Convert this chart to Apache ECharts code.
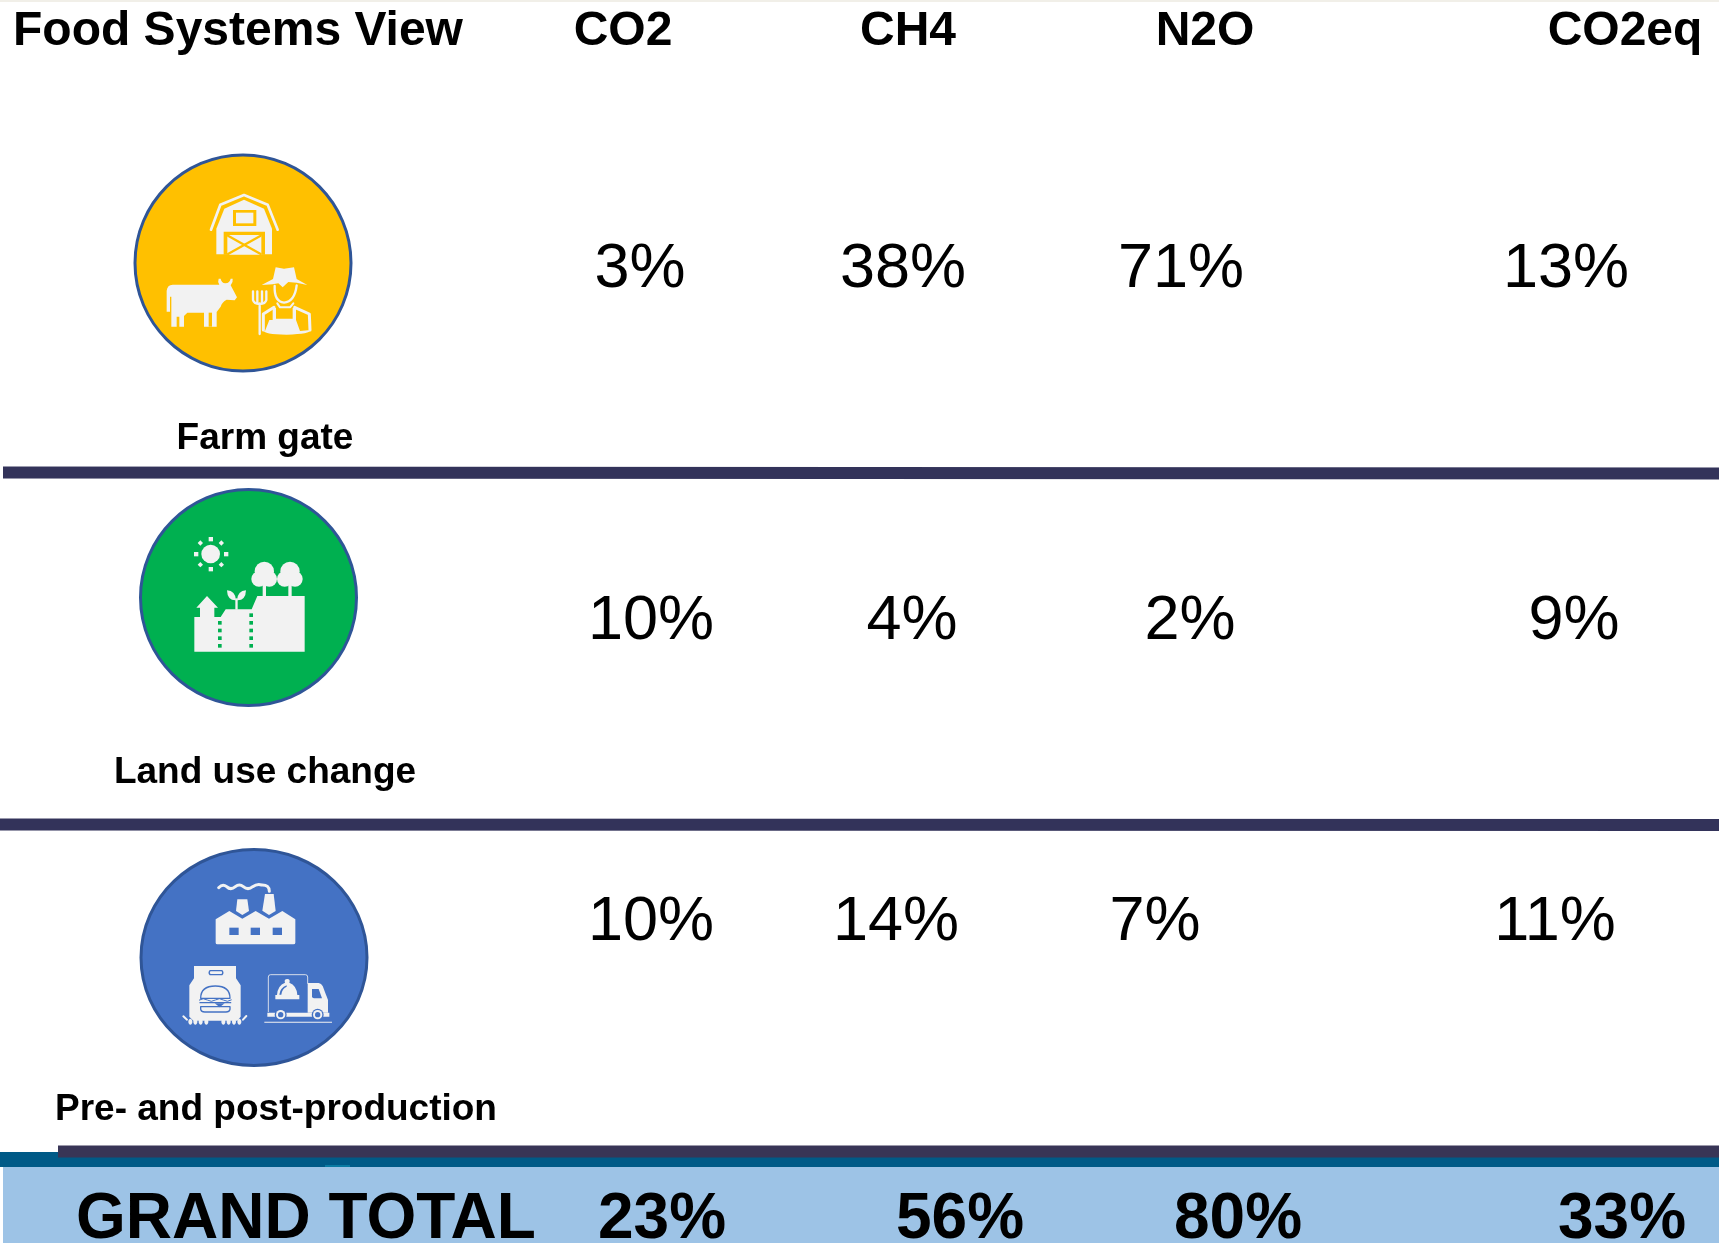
<!DOCTYPE html>
<html>
<head>
<meta charset="utf-8">
<style>
  html, body { margin: 0; background: #fff; }
  #chart { width: 1719px; height: 1243px; }
</style>
<script src="https://cdn.jsdelivr.net/npm/echarts@6/dist/echarts.min.js"></script>
</head>
<body>
<div id="chart"></div>
<script>
const title = 'Food Systems View'
const gases = ['CO2', 'CH4', 'N2O', 'CO2eq']
const rowNames = ['Farm gate', 'Land use change', 'Pre- and post-production']
const totalName = 'GRAND TOTAL'

const farmGate = [3, 38, 71, 13]
const landUse = [10, 4, 2, 9]
const prePost = [10, 14, 7, 11]
const grandTotal = [23, 56, 80, 33]

// the source slide is hand placed, so each cell has its own centre x
const headerX = [623, 908, 1205, 1625]
const rowX = [
  [640, 903, 1181, 1566],
  [651, 912, 1190, 1574],
  [651, 896, 1155, 1555],
]
const totalX = [662, 960, 1238, 1622]
const rowY = [270, 622, 923]
const labelX = [265, 265, 276]
const labelY = [439, 773, 1110]

const FONT = '"Liberation Sans", Arial, sans-serif'
const ICON = '#f2f2f2'
const YELLOW = '#ffc000'
const GREEN = '#00b050'
const BLUE = '#4472c4'
const RULE = '#33335a'

const text = (str, x, y, size, weight, align) => ({
  type: 'text',
  x, y,
  style: {
    text: str,
    fontFamily: FONT,
    fontSize: size,
    fontWeight: weight,
    fill: '#000',
    align: align || 'center',
    verticalAlign: 'middle',
  },
})

const rect = (x, y, width, height, fill) => ({
  type: 'rect',
  shape: { x, y, width, height },
  style: { fill },
})

const rule = (x1, y1, x2, y2) => ({
  type: 'line',
  shape: { x1, y1, x2, y2 },
  style: { stroke: RULE, lineWidth: 12 },
})

// graphic has no plain path type, so every traced outline becomes its own shape
let shapeCount = 0
const pathShape = (d) => {
  const name = 'iconPath' + shapeCount++
  echarts.graphic.registerShape(name, echarts.graphic.extendPath(d))
  return name
}

// icon parts are traced in a 3x crop, the group scales them back down
const fillPath = (d, fill) => ({
  type: pathShape(d),
  style: { fill },
})
const strokePath = (d, stroke, lineWidth) => ({
  type: pathShape(d),
  style: { fill: 'none', stroke, lineWidth, lineCap: 'round', lineJoin: 'round' },
})
const box = (x, y, w, h, fill) => rect(x, y, w, h, fill)
const dot = (cx, cy, r, fill) => ({ type: 'circle', shape: { cx, cy, r }, style: { fill } })
const oval = (cx, cy, rx, ry, fill) => ({ type: 'ellipse', shape: { cx, cy, rx, ry }, style: { fill } })

const icon = (x, y, children) => ({ type: 'group', x, y, scaleX: 1 / 3, scaleY: 1 / 3, children })

const badge = (cx, cy, rx, ry, fill) => ({
  type: 'ellipse',
  shape: { cx, cy, rx, ry },
  style: { fill, stroke: '#2f5597', lineWidth: 3 },
})

const farmIcon = icon(100, 130, [
  // barn
  strokePath('M333 299L361 224L432 195L503 224L533 299', ICON, 8),
  fillPath('M349 373L349 296L373 236L432 209L492 236L516 296L516 373Z', ICON),
  box(399, 240, 70, 48, YELLOW),
  box(408, 248, 52, 32, ICON),
  box(371, 305, 124, 69, YELLOW),
  box(382, 315, 102, 59, ICON),
  strokePath('M384 317L482 372M482 317L384 372', YELLOW, 7),
  // cow
  fillPath('M200 545L200 482Q202 464 218 464L358 464Q352 456 356 446L362 446Q364 458 376 460Q390 458 392 446L398 446Q400 456 392 466L411 502L404 511L380 509Q366 516 362 530L350 546L350 590L312 590L312 548L262 548L252 558L252 590L238 590L238 560L230 560L230 590L214 590L214 500L210 500L210 545Z', ICON),
  box(326, 548, 10, 42, YELLOW),
  // farmer
  fillPath('M485 465L519 447L527 412L552 416L582 412L590 447L622 465L590 458L565 456L548 472L535 460L518 463Z', ICON),
  strokePath('M524 468Q522 515 552 518Q584 515 590 466', ICON, 7),
  strokePath('M532 520L540 532L570 532L580 520', ICON, 6),
  strokePath('M490 600L490 552L522 532M584 532L628 552L630 600', ICON, 9),
  fillPath('M518 534L528 534L528 566L578 566L578 534L588 534L588 570L600 603L632 600Q632 612 560 614Q490 614 490 600L495 603L508 570L518 570Z', ICON),
  strokePath('M479 612L479 520M459 484L459 510Q462 522 479 522Q496 522 499 510L499 484M472 484L472 520M486 484L486 520', ICON, 7),
])

const landIcon = icon(110, 470, [
  dot(302, 252, 28, ICON),
  box(296, 201, 13, 13, ICON), box(296, 291, 13, 13, ICON),
  box(252, 246, 13, 13, ICON), box(342, 246, 13, 13, ICON),
  fillPath('M271 211L279 219L271 227L263 219Z', ICON),
  fillPath('M334 211L342 219L334 227L326 219Z', ICON),
  fillPath('M271 276L279 284L271 292L263 284Z', ICON),
  fillPath('M334 276L342 284L334 292L326 284Z', ICON),
  fillPath('M253 545L253 441L270 441L270 413L259 413L291 378L324 413L313 413L313 441L332 441L347 418L425 418L442 378L584 378L584 545Z', ICON),
  box(324, 453, 11, 11, GREEN), box(324, 476, 11, 11, GREEN), box(324, 499, 11, 11, GREEN), box(324, 522, 11, 11, GREEN),
  box(418, 430, 11, 11, GREEN), box(418, 453, 11, 11, GREEN), box(418, 476, 11, 11, GREEN), box(418, 499, 11, 11, GREEN), box(418, 522, 11, 11, GREEN),
  box(376, 385, 7, 34, ICON),
  fillPath('M351 361Q376 362 378 391Q352 392 351 361Z', ICON),
  fillPath('M408 361Q383 362 381 391Q407 392 408 361Z', ICON),
  box(458, 340, 10, 40, ICON), dot(463, 304, 29, ICON), dot(447, 327, 23, ICON), dot(478, 327, 23, ICON),
  box(535, 340, 10, 40, ICON), dot(540, 304, 29, ICON), dot(524, 327, 23, ICON), dot(555, 327, 23, ICON),
])

const prePostIcon = icon(110, 830, [
  // factory
  strokePath('M326 173Q338 160 350 170Q362 182 376 170Q388 160 400 170Q414 182 428 170Q442 160 455 165Q478 164 478 184', ICON, 9),
  fillPath('M382 208L412 208L417 243L397 255L378 243Z', ICON),
  fillPath('M465 192L491 192L497 243L477 255L457 242Z', ICON),
  fillPath('M317 268L358 243L397 266L437 243L477 266L517 243L556 268L556 338Q556 343 550 343L322 343Q317 343 317 338Z', ICON),
  box(358, 293, 28, 22, BLUE), box(422, 293, 28, 22, BLUE), box(488, 293, 28, 22, BLUE),
  // food bag
  fillPath('M252 408L378 408L378 445L392 466L392 560L382 572L250 572L238 560L238 466L252 445Z', ICON),
  strokePath('M300 422L336 422Q341 428 336 434L300 434Q295 428 300 422Z', BLUE, 4),
  strokePath('M272 505Q272 468 316 468Q360 468 360 505ZM270 518L362 518M272 530L272 538Q274 546 284 546L348 546Q358 546 360 538L360 530Z', BLUE, 4),
  strokePath('M268 510Q280 502 292 510Q304 518 316 510Q328 502 340 510Q352 518 364 510', BLUE, 3),
  fillPath('M314 520L344 520L329 532Z', BLUE),
  oval(241, 575, 6, 9, ICON), oval(256, 575, 6, 9, ICON), oval(272, 575, 6, 9, ICON), oval(289, 575, 6, 9, ICON),
  oval(340, 575, 6, 9, ICON), oval(356, 575, 6, 9, ICON), oval(372, 575, 6, 9, ICON), oval(388, 575, 6, 9, ICON),
  strokePath('M220 559L231 569M409 558L399 569', ICON, 6),
  // delivery truck
  strokePath('M475 545L475 441Q475 434 482 434L586 434Q593 434 593 441L593 460', ICON, 2.5),
  fillPath('M593 459L626 459Q634 460 638 468L654 510L654 548L593 548Z', ICON),
  fillPath('M606 477L626 477L636 505L612 505Q606 505 606 499Z', BLUE),
  fillPath('M501 495Q503 466 525 458Q521 448 532 447Q542 448 538 458Q560 466 562 495L568 495L568 508L496 508L496 495Z', ICON),
  fillPath('M508 494Q510 474 530 466L530 470Q516 476 514 494Z', BLUE),
  fillPath('M472 548L658 548L658 560L472 560Z', ICON),
  dot(512, 554, 18, BLUE), dot(512, 554, 14, ICON), dot(512, 554, 8, BLUE),
  dot(623, 554, 18, BLUE), dot(623, 554, 14, ICON), dot(623, 554, 8, BLUE),
  box(463, 575, 203, 3, ICON),
])

const cells = (values, xs, y, size, weight) =>
  values.map((v, i) => text(v + '%', xs[i], y, size, weight))

const elements = [
  rect(0, 0, 1719, 2, '#f1efe8'),
  text(title, 13, 32, 48, 'bold', 'left'),
  ...gases.map((g, i) => text(g, headerX[i], 32, 48, 'bold')),

  badge(243, 263, 108, 108, YELLOW),
  farmIcon,
  badge(248.5, 597.5, 108, 108, GREEN),
  landIcon,
  badge(254, 957.5, 113, 108, BLUE),
  prePostIcon,

  ...rowNames.map((name, i) => text(name, labelX[i], labelY[i], 37, 'bold')),
  ...cells(farmGate, rowX[0], rowY[0], 63, 'normal'),
  ...cells(landUse, rowX[1], rowY[1], 63, 'normal'),
  ...cells(prePost, rowX[2], rowY[2], 63, 'normal'),

  rule(3, 472.5, 1719, 473.5),
  rule(0, 824.5, 1719, 825),

  rect(0, 1152, 1719, 15, '#005a87'),
  rect(3, 1167, 1716, 76, '#9dc3e6'),
  rect(325, 1165, 25, 2, '#0a7ba3'),
  { ...rule(58, 1151.5, 1719, 1151.5), style: { stroke: '#383556', lineWidth: 12 } },
  text(totalName, 76, 1220, 64, 'bold', 'left'),
  ...cells(grandTotal, totalX, 1220, 64, 'bold'),
]

const myChart = echarts.init(document.getElementById('chart'))
myChart.setOption({
  backgroundColor: '#fff',
  animation: false,
  graphic: { elements },
})
</script>
</body>
</html>
